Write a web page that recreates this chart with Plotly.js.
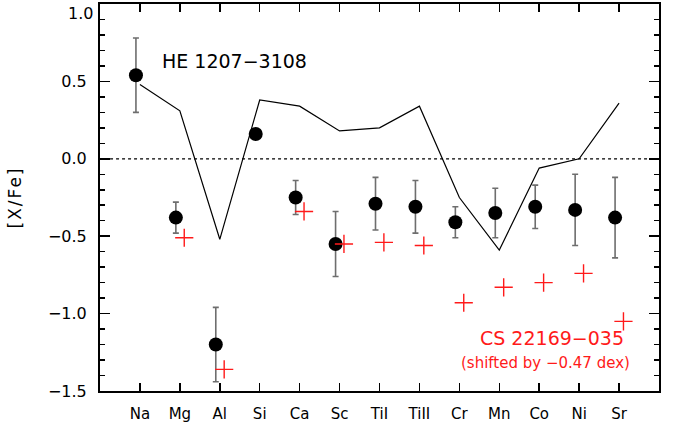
<!DOCTYPE html>
<html>
<head>
<meta charset="utf-8">
<script src="https://cdn.plot.ly/plotly-3.0.1.min.js"></script>
<style>html,body{margin:0;padding:0;background:#fff}#chart{width:676px;height:428px}
.ytitle{letter-spacing:2px}</style>
</head>
<body>
<div id="chart"></div>
<script>
// Element categories
const elements = ["Na","Mg","Al","Si","Ca","Sc","TiI","TiII","Cr","Mn","Co","Ni","Sr"];
const elemPos = [1,2,3,4,5,6,7,8,9,10,11,12,13];

// Y tick values and labels
const yTickVals = [-1.5, -1.0, -0.5, 0.0, 0.5, 1.0];
const yTickText = ["−1.5", "−1.0", "−0.5", "0.0", "0.5", ""];
const yTopLabel = "1.0";

// HE 1207-3108 abundances [X/Fe] and errors
const heValues = [0.54, -0.38, -1.20, 0.16, -0.25, -0.55, -0.29, -0.31, -0.41, -0.35, -0.31, -0.33, -0.38];
const heErrors = [0.24, 0.10, 0.24, null, 0.11, 0.21, 0.17, 0.17, 0.10, 0.16, 0.14, 0.23, 0.26];

// CS 22169-035 (shifted by -0.47 dex)
const csValues = [null, -0.51, -1.36, null, -0.34, -0.55, -0.54, -0.56, -0.93, -0.83, -0.80, -0.74, -1.05];

// Model line
const modelValues = [0.48, 0.31, -0.52, 0.38, 0.34, 0.18, 0.20, 0.34, -0.25, -0.59, -0.06, 0.00, 0.36];

const heX = elemPos.map(p => p - 0.1);
const csX = elemPos.map(p => p + 0.11);

const traces = [
  {
    x: elemPos, y: modelValues, type: 'scatter', mode: 'lines',
    line: {color: '#000', width: 1.2}, hoverinfo: 'skip', showlegend: false
  },
  {
    x: heX, y: heValues, type: 'scatter', mode: 'markers',
    marker: {color: '#000', size: 14},
    error_y: {type: 'data', array: heErrors.map(e => e === null ? 0 : e), visible: true,
              color: '#6e6e6e', thickness: 1.6, width: 3},
    showlegend: false
  },
  {
    x: csX, y: csValues, type: 'scatter', mode: 'markers',
    marker: {symbol: 'cross-thin', size: 13, line: {color: '#ff1a1a', width: 1.4}, color: '#ff1a1a'},
    showlegend: false
  }
];

const layout = {
  width: 676, height: 428,
  margin: {l: 100, r: 17, t: 4, b: 37},
  paper_bgcolor: '#fff', plot_bgcolor: '#fff',
  font: {family: 'DejaVu Sans, sans-serif', color: '#000', size: 15},
  xaxis: {
    range: [0, 14], tickvals: elemPos, ticktext: elements,
    ticks: 'inside', ticklen: 8, tickwidth: 1.5, tickcolor: '#000',
    showline: true, linecolor: '#000', linewidth: 2, mirror: 'ticks',
    showgrid: false, zeroline: false, ticklabelstandoff: 8,
    tickfont: {size: 15}
  },
  yaxis: {
    range: [-1.5, 1.0], tickvals: yTickVals, ticktext: yTickText,
    ticks: 'inside', ticklen: 10, tickwidth: 1.5, tickcolor: '#000',
    minor: {dtick: 0.1, ticks: 'inside', ticklen: 5, tickwidth: 1.5, tickcolor: '#000'},
    showline: true, linecolor: '#000', linewidth: 2, mirror: 'ticks',
    showgrid: false, zeroline: false, ticklabelstandoff: 8,
    tickfont: {size: 16},
    title: {text: '[X/Fe]', font: {size: 17}, standoff: 22}
  },
  shapes: [
    {type: 'line', xref: 'paper', yref: 'y', x0: 0.018, x1: 0.982, y0: 0, y1: 0,
     line: {color: '#000', width: 1.2, dash: 'dot'}}
  ],
  annotations: [
    {x: 0, y: 1.0, xref: 'paper', yref: 'y', xanchor: 'right', yanchor: 'top',
     xshift: -5, yshift: 2, text: yTopLabel, showarrow: false, font: {size: 16, color: '#000'}},
    {x: 1.5, y: 0.635, xref: 'x', yref: 'y', xanchor: 'left', yanchor: 'middle',
     text: 'HE 1207−3108', showarrow: false, font: {size: 19, color: '#000'}},
    {x: 13.18, y: -1.156, xref: 'x', yref: 'y', xanchor: 'right', yanchor: 'middle',
     text: 'CS 22169−035', showarrow: false, font: {size: 19, color: '#ff1a1a'}},
    {x: 13.33, y: -1.317, xref: 'x', yref: 'y', xanchor: 'right', yanchor: 'middle',
     text: '(shifted by −0.47 dex)', showarrow: false, font: {size: 15, color: '#ff1a1a'}}
  ]
};

Plotly.newPlot('chart', traces, layout, {displayModeBar: false, staticPlot: true});
</script>
</body>
</html>
